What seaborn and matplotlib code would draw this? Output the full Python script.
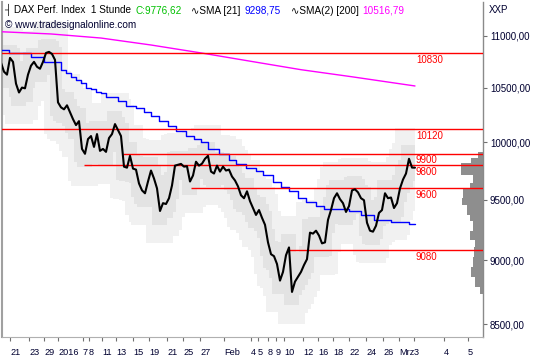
import numpy as np
import pandas as pd
import matplotlib
matplotlib.use('Agg')
import matplotlib.pyplot as plt
from matplotlib.ticker import FixedLocator, NullLocator
import seaborn as sns

close = [10737, 10652, 10624, 10784, 10746, 10539, 10456, 10502, 10495, 10624,
         10709, 10746, 10699, 10680, 10746, 10832, 10842, 10822, 10765, 10364,
         10318, 10300, 10337, 10273, 10210, 10156, 10192, 9942, 9899, 10030,
         10057, 9960, 10075, 9925, 9942, 9916, 10039, 10075, 10165, 10111,
         10057, 9786, 9777, 9881, 9769, 9760, 9640, 9581, 9556, 9657,
         9752, 9683, 9598, 9406, 9472, 9465, 9514, 9623, 9795, 9803,
         9810, 9786, 9790, 9657, 9709, 9829, 9795, 9812, 9855, 9881,
         9743, 9726, 9795, 9743, 9786, 9752, 9760, 9700, 9666, 9615,
         9539, 9514, 9573, 9489, 9431, 9373, 9414, 9349, 9291, 9146,
         9050, 9034, 8971, 8839, 8908, 9042, 9105, 8750, 8831, 8870,
         8908, 8963, 9010, 9226, 9218, 9242, 9202, 9138, 9146, 9332,
         9414, 9514, 9556, 9506, 9472, 9398, 9447, 9581, 9590, 9564,
         9514, 9497, 9308, 9242, 9234, 9283, 9390, 9414, 9556, 9514,
         9520, 9431, 9472, 9598, 9674, 9726, 9855, 9778, 9777]
bar_step = 3
bars = np.arange(len(close)) * bar_step

# SMA [21] (Tageswerte, stufig)
sma21_bar = [0, 8, 30, 43, 60, 65, 70, 75, 80, 85, 90, 95, 100, 105, 117, 125,
             135, 143, 150, 158, 167, 175, 185, 193, 200, 207, 218, 228, 235,
             245, 255, 262, 272, 280, 288, 297, 305, 315, 323, 348, 360, 373,
             390, 408, 414]
sma21 = [10861, 10832, 10794, 10746, 10671, 10643, 10605, 10577, 10549, 10502,
         10484, 10456, 10447, 10410, 10374, 10328, 10309, 10273, 10237, 10192,
         10147, 10102, 10057, 10030, 10003, 9942, 9899, 9846, 9812, 9777,
         9752, 9709, 9657, 9606, 9573, 9514, 9481, 9447, 9423, 9406,
         9373, 9332, 9316, 9299, 9299]

# SMA(2) [200]
sma200_bar = [0, 50, 100, 150, 200, 250, 300, 350, 414]
sma200 = [11039, 11017, 10977, 10909, 10832, 10751, 10671, 10605, 10517]

# Unterstuetzungen / Widerstaende
levels = [10830, 10120, 9900, 9800, 9600, 9080]
level_start = [0, 0, 122, 83, 190, 286]

# Datumsachse
date_bar = [9, 28, 43, 57, 82, 88, 101, 115, 132, 148, 166, 182, 199, 223, 250,
            257, 267, 275, 283, 302, 317, 332, 348, 365, 382, 398, 413, 443, 467]
date_lbl = ['21', '23', '29', '2016', '7', '8', '11', '13', '15', '19', '21',
            '25', '27', 'Feb', '4', '5', '8', '9', '10', '12', '16', '18', '22',
            '24', '26', 'Mrz', '3', '4', '5']

# Volumenprofil
profile_edges = [9915, 9863, 9818, 9713, 9640, 9598, 9514, 9455, 9373, 9324,
                 9242, 9162, 9105, 9026, 8947, 8870, 8792, 8731]
profile_vol = [5, 12, 22, 10, 13, 20, 21, 16, 13, 10, 13, 8, 9, 10, 12, 8, 3]

yticks = [8500, 9000, 9500, 10000, 10500, 11000]

sns.set_theme(style='white')
plt.rcParams['font.family'] = ['Liberation Sans', 'DejaVu Sans']
txt_col = '#000030'

fig = plt.figure(figsize=(5.4, 3.6), dpi=100)
fig.patch.set_facecolor('white')
ax = fig.add_axes([2 / 540, 23 / 360, 481 / 540, 335 / 360])
ax.set_facecolor('white')
ax.set_yscale('log')
XMIN, XMAX = 1, 482

# Kanaele
s = pd.Series(close, dtype=float)
outer_hi = s.rolling(9, center=True, min_periods=1).max() * 1.028
outer_lo = s.rolling(9, center=True, min_periods=1).min() * 0.972
inner_hi = s.rolling(5, center=True, min_periods=1).max() * 1.012
inner_lo = s.rolling(5, center=True, min_periods=1).min() * 0.988
ax.fill_between(bars, outer_lo, outer_hi, step='mid', color='#f1f1f1', lw=0, zorder=1)
ax.fill_between(bars, inner_lo, inner_hi, step='mid', color='#e3e3e3', lw=0, zorder=1.1)

# Volumenprofil rechts
edges = np.array(profile_edges, dtype=float)
vol = np.array(profile_vol, dtype=float)
ax.barh(edges[1:], vol, height=edges[:-1] - edges[1:], left=XMAX - vol,
        align='edge', color='#8e8e8e', lw=0, zorder=2)

# Linien
sns.lineplot(x=sma200_bar, y=sma200, ax=ax, color='#ff00ff', lw=1.0, zorder=3)
sns.lineplot(x=sma21_bar, y=sma21, ax=ax, color='#0000ff', lw=1.0,
             drawstyle='steps-post', zorder=3)

for lvl, start in zip(levels, level_start):
    ax.hlines(lvl, start, XMAX, color='#ff0000', lw=1.0, zorder=4)
    ax.annotate(str(lvl), xy=(415, lvl), xytext=(0, -1.2), textcoords='offset points',
                ha='left', va='top', color='#ff0000', fontsize=7, zorder=6)

sns.lineplot(x=bars, y=close, ax=ax, color='black', lw=1.5, zorder=5)

ax.set_xlim(XMIN, XMAX)
ax.set_ylim(8405, 11336)
ax.set_xlabel('')
ax.set_ylabel('')

ax.yaxis.tick_right()
ax.yaxis.set_major_locator(FixedLocator(yticks))
ax.yaxis.set_minor_locator(NullLocator())
ax.set_yticklabels([f'{v},00' for v in yticks])
ax.tick_params(axis='y', which='major', right=True, left=False, length=3, width=0.8,
               color='#707070', pad=2, labelsize=7, labelcolor=txt_col)

ax.set_xticks(date_bar)
ax.set_xticklabels(date_lbl)
for lbl in ax.get_xticklabels():
    lbl.set_horizontalalignment('left')
ax.tick_params(axis='x', bottom=True, length=3, width=0.8, color='#707070', pad=5,
               labelsize=6.6, labelcolor=txt_col)
ax.grid(False)

ax.spines['top'].set_visible(False)
ax.spines['left'].set_color('#a0a0a0')
ax.spines['left'].set_linewidth(1.5)
ax.spines['right'].set_color('#8a8a8a')
ax.spines['right'].set_linewidth(1.0)
ax.spines['bottom'].set_color('#b0b0b0')
ax.spines['bottom'].set_linewidth(0.8)

# Kopfzeile
parts = [('┤ DAX Perf. Index  1 Stunde', 'black', 0),
         ('C:9776,62', '#00c000', 3),
         ('∿SMA [21]', 'black', 7),
         ('9298,75', '#0000ff', 3),
         ('∿SMA(2) [200]', 'black', 7),
         ('10516,79', '#ff00ff', 3)]
prev = fig.text(4 / 540, 1 - 12.5 / 360, parts[0][0], color=parts[0][1],
                fontsize=7.2, va='baseline', ha='left')
for txt, col, gap in parts[1:]:
    prev = ax.annotate(txt, xy=(1, 0), xycoords=prev, xytext=(gap, 0),
                       textcoords='offset points', color=col, fontsize=7.2,
                       va='bottom', ha='left', annotation_clip=False)
fig.text(5 / 540, 1 - 27.5 / 360, '© www.tradesignalonline.com', color=txt_col,
         fontsize=7.2, va='baseline', ha='left')
fig.text(489 / 540, 1 - 13 / 360, 'XXP', color=txt_col, fontsize=7,
         va='baseline', ha='left')

fig.savefig('out.png', dpi=100, facecolor='white')
